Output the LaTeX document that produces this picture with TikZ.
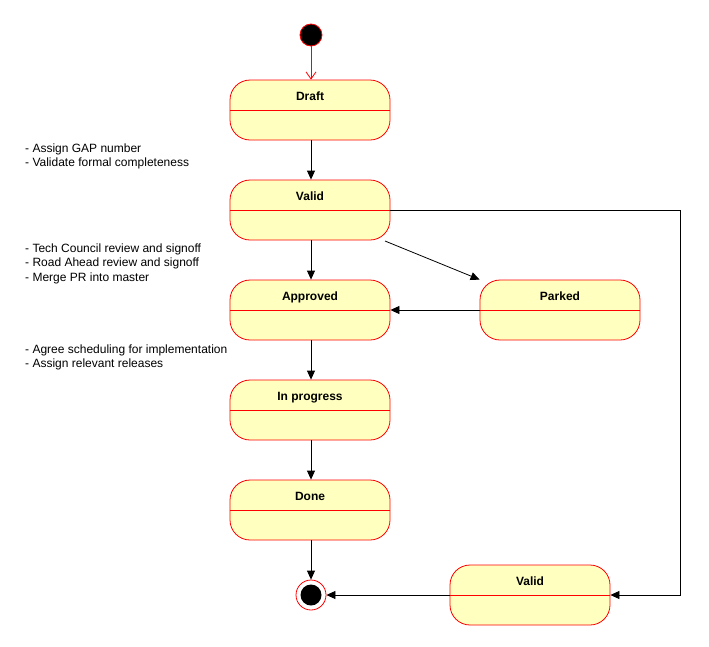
\documentclass[tikz,border=0pt]{standalone}
\usepackage{fontspec}
\setmainfont{Liberation Sans}
\usetikzlibrary{arrows.meta}
\definecolor{stfill}{HTML}{FFFFC0}
\definecolor{stline}{HTML}{FF0000}
\begin{document}
\begin{tikzpicture}[x=1pt,y=-1pt,
  state/.style={draw=stline,fill=stfill,rounded corners=20pt,minimum width=160pt,minimum height=60pt,inner sep=0pt,line width=0.8pt},
  divider/.style={stline,line width=0.8pt},
  ttl/.style={font=\fontsize{12}{14}\selectfont\bfseries,anchor=base,inner sep=0pt},
  note/.style={font=\fontsize{12}{14.5}\selectfont,align=left,anchor=north west,inner sep=0pt},
  edge/.style={draw=black,line width=0.8pt,-{Triangle[length=9pt,width=8pt]}}
]
\useasboundingbox (0,0) rectangle (709,646);
\node[circle,draw=stline,fill=black,minimum size=22pt,inner sep=0pt,line width=0.8pt] (init) at (311,35) {};
\node[state] (draft) at (310,110) {};
\draw[divider] (draft.west) -- (draft.east);
\node[ttl] (draftt) at (310,100.5) {Draft};
\node[state] (valid) at (310,210) {};
\draw[divider] (valid.west) -- (valid.east);
\node[ttl] (validt) at (310,200.5) {Valid};
\node[state] (appr) at (310,310) {};
\draw[divider] (appr.west) -- (appr.east);
\node[ttl] (apprt) at (310,300.5) {Approved};
\node[state] (park) at (560,310) {};
\draw[divider] (park.west) -- (park.east);
\node[ttl] (parkt) at (560,300.5) {Parked};
\node[state] (inprog) at (310,410) {};
\draw[divider] (inprog.west) -- (inprog.east);
\node[ttl] (inprogt) at (310,400.5) {In progress};
\node[state] (done) at (310,510) {};
\draw[divider] (done.west) -- (done.east);
\node[ttl] (donet) at (310,500.5) {Done};
\node[state] (valid2) at (530,595) {};
\draw[divider] (valid2.west) -- (valid2.east);
\node[ttl] (valid2t) at (530,585.5) {Valid};
\node[circle,draw=stline,fill=white,minimum size=30pt,inner sep=0pt,line width=0.8pt] (final) at (311,595) {};
\node[circle,fill=black,minimum size=21pt,inner sep=0pt] (finalin) at (final) {};
% notes
\node[note] (n1) at (25,143.5) {- Assign GAP number\\- Validate formal completeness};
\node[note] (n2) at (25,243.5) {- Tech Council review and signoff\\- Road Ahead review and signoff\\- Merge PR into master};
\node[note] (n3) at (25,344.5) {- Agree scheduling for implementation\\- Assign relevant releases};
% edges
\coordinate (vsrc) at (385,241);
\coordinate (c1) at (680,210);
\coordinate (c2) at (680,595);
\draw[stline,line width=0.8pt,-{Straight Barb[length=7pt,width=10pt]}] (init) -- (draft.north -| init);
\draw[edge] (draft.south -| init) -- (valid.north -| init);
\draw[edge] (valid.south -| init) -- (appr.north -| init);
\draw[edge] (vsrc) -- (park.north west);
\draw[edge] (park.west) -- (appr.east);
\draw[edge] (appr.south -| init) -- (inprog.north -| init);
\draw[edge] (inprog.south -| init) -- (done.north -| init);
\draw[edge] (done.south -| init) -- (final.north);
\draw[edge] (valid.east) -- (c1) -- (c2) -- (valid2.east);
\draw[edge] (valid2.west) -- (final.east);
\end{tikzpicture}
\end{document}
